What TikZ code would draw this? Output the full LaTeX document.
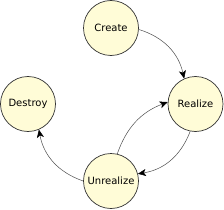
\documentclass[tikz,border=0pt]{standalone}
\usepackage{fontspec}
\setmainfont{DejaVu Sans}
\usetikzlibrary{arrows.meta}
\definecolor{statefill}{RGB}{255,252,215}
\begin{document}
\begin{tikzpicture}[x=1pt,y=1pt,
  state/.style={circle,draw=black!80,line width=0.7pt,fill=statefill,minimum size=55pt,inner sep=0pt,font=\fontsize{10}{12}\selectfont},
  trans/.style={draw=black!70,line width=0.5pt,-{Stealth[length=8pt,width=7pt,inset=2pt,color=black]}}]
\useasboundingbox (0,0) rectangle (224,209);
\node[state] (create) at (111,181) {Create};
\node[state] (realize) at (195.5,105) {Realize};
\node[state] (destroy) at (28,105) {Destroy};
\node[state] (unrealize) at (111,28) {Unrealize};
\draw[trans] (create.-3) to[bend left=30] (realize.114);
\draw[trans] (realize.259) to[bend left=30] (unrealize.15);
\draw[trans] (unrealize.77) to[bend left=25] (realize.176);
\draw[trans] (unrealize.180) to[bend left=30] (destroy.-67);
\end{tikzpicture}
\end{document}
